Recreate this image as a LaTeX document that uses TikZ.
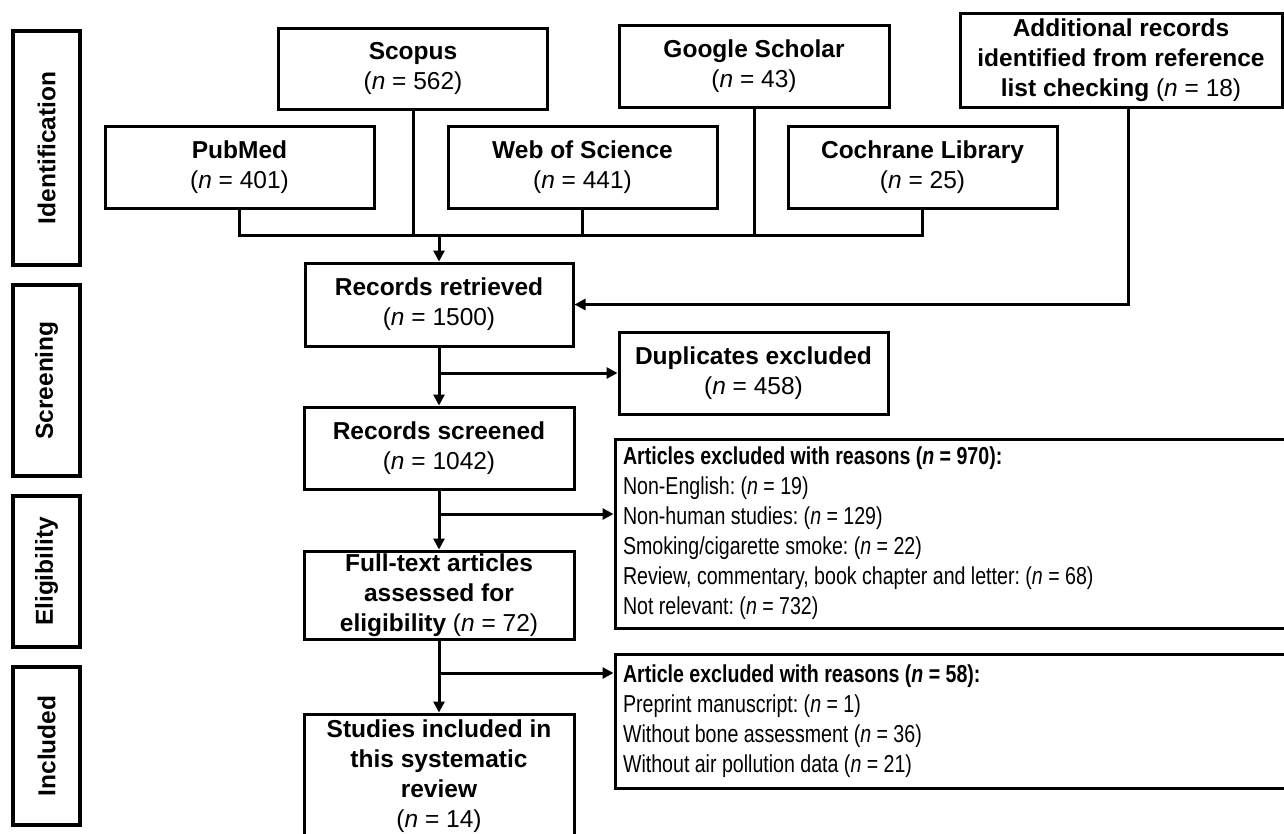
\documentclass[tikz,border=0pt]{standalone}
\usepackage{fontspec}
\setmainfont{Liberation Sans}
\newfontfamily\narrowfont[FakeStretch=0.8]{Liberation Sans}
\usetikzlibrary{arrows.meta}
\newcommand\exsp{\frenchspacing\spaceskip=5.4pt plus 1pt minus 1pt\relax}
\begin{document}
\begin{tikzpicture}[x=1pt,y=-1pt,line width=3pt,
  box/.style={draw,line width=3pt,minimum width=269pt,minimum height=83pt,align=center,inner sep=0pt,
    font=\fontsize{24.5}{30}\selectfont},
  exbox/.style={draw,line width=3pt,text width=669pt,inner xsep=8pt,inner ysep=0pt,align=left,
    font=\narrowfont\fontsize{24.5}{30}\selectfont},
  phase/.style={draw,line width=3.5pt,minimum height=67pt,inner sep=0pt,rotate=90,
    font=\fontsize{24.5}{30}\selectfont\bfseries},
  arr/.style={-{Triangle[length=11pt,width=11pt]},line width=3pt}]
\useasboundingbox (0,0) rectangle (1284,833);
\clip (0,0) rectangle (1284,833);

% phase labels
\node[phase,minimum width=234pt] (ph1) at (46.5,148) {Identification};
\node[phase,minimum width=191pt] (ph2) at (46.5,380.5) {Screening};
\node[phase,minimum width=151pt] (ph3) at (46.5,571.5) {Eligibility};
\node[phase,minimum width=158pt] (ph4) at (46.5,746) {Included};

% sources
\node[box,minimum height=81pt] (scopus) at (413,68.5) {\textbf{Scopus}\\(\textit{n} = 562)};
\node[box,minimum height=82pt,minimum width=270pt] (gs) at (754,66) {\textbf{Google Scholar}\\(\textit{n} = 43)};
\node[box,minimum width=322pt,minimum height=94pt] (add) at (1121,60) {\textbf{Additional records}\\\textbf{identified from reference}\\\textbf{list checking} (\textit{n} = 18)};
\node[box,minimum height=82pt] (pubmed) at (239.5,167) {\textbf{PubMed}\\(\textit{n} = 401)};
\node[box,minimum height=82pt] (wos) at (582.5,167) {\textbf{Web of Science}\\(\textit{n} = 441)};
\node[box,minimum height=82pt] (coch) at (922.5,167) {\textbf{Cochrane Library}\\(\textit{n} = 25)};

% main column
\node[box,minimum width=268pt] (ret) at (439,304.5) {\textbf{Records retrieved}\\(\textit{n} = 1500)};
\node[box,minimum height=82pt] (dup) at (753.5,373) {\textbf{Duplicates excluded}\\(\textit{n} = 458)};
\node[box,minimum width=270pt,minimum height=82pt] (scr) at (439,448) {\textbf{Records screened}\\(\textit{n} = 1042)};
\node[box,minimum width=270pt,minimum height=88pt] (full) at (439,595) {\textbf{Full-text articles}\\\textbf{assessed for}\\\textbf{eligibility} (\textit{n} = 72)};
\node[box,minimum width=270pt,minimum height=124pt] (stud) at (439,776) {\textbf{Studies included in}\\\textbf{this systematic}\\\textbf{review}\\(\textit{n} = 14)};

% exclusion boxes
\node[exbox,minimum height=189pt] (ex1) at (957.5,533.5) {\exsp\textbf{Articles excluded with reasons (\textit{n} = 970):}\\
Non-English: (\textit{n} = 19)\\
Non-human studies: (\textit{n} = 129)\\
Smoking/cigarette smoke: (\textit{n} = 22)\\
Review, commentary, book chapter and letter: (\textit{n} = 68)\\
Not relevant: (\textit{n} = 732)};
\node[exbox,minimum height=134pt] (ex2) at (957.5,721) {\exsp\textbf{Article excluded with reasons (\textit{n} = 58):}\\
Preprint manuscript: (\textit{n} = 1)\\
Without bone assessment (\textit{n} = 36)\\
Without air pollution data (\textit{n} = 21)};

% connectors
\coordinate (busy) at (0,235);
\coordinate (addx) at (1128,107);
\coordinate (b1) at (439,373);
\coordinate (b2) at (439,514);
\coordinate (b3) at (439,673);
\draw (pubmed.south) -- (pubmed.south |- busy) -- (coch.south |- busy) -- (coch.south);
\draw (scopus.south) -- (scopus.south |- busy);
\draw (wos.south) -- (wos.south |- busy);
\draw (gs.south) -- (gs.south |- busy);
\draw[arr] (ret.north |- busy) -- (ret.north);
\draw[arr] (addx) |- (ret.east);
\draw[arr] (ret.south) -- (scr.north);
\draw[arr] (b1) -- (dup.west);
\draw[arr] (scr.south) -- (full.north);
\draw[arr] (b2) -- (b2 -| ex1.west);
\draw[arr] (full.south) -- (stud.north);
\draw[arr] (b3) -- (b3 -| ex2.west);
\end{tikzpicture}
\end{document}
